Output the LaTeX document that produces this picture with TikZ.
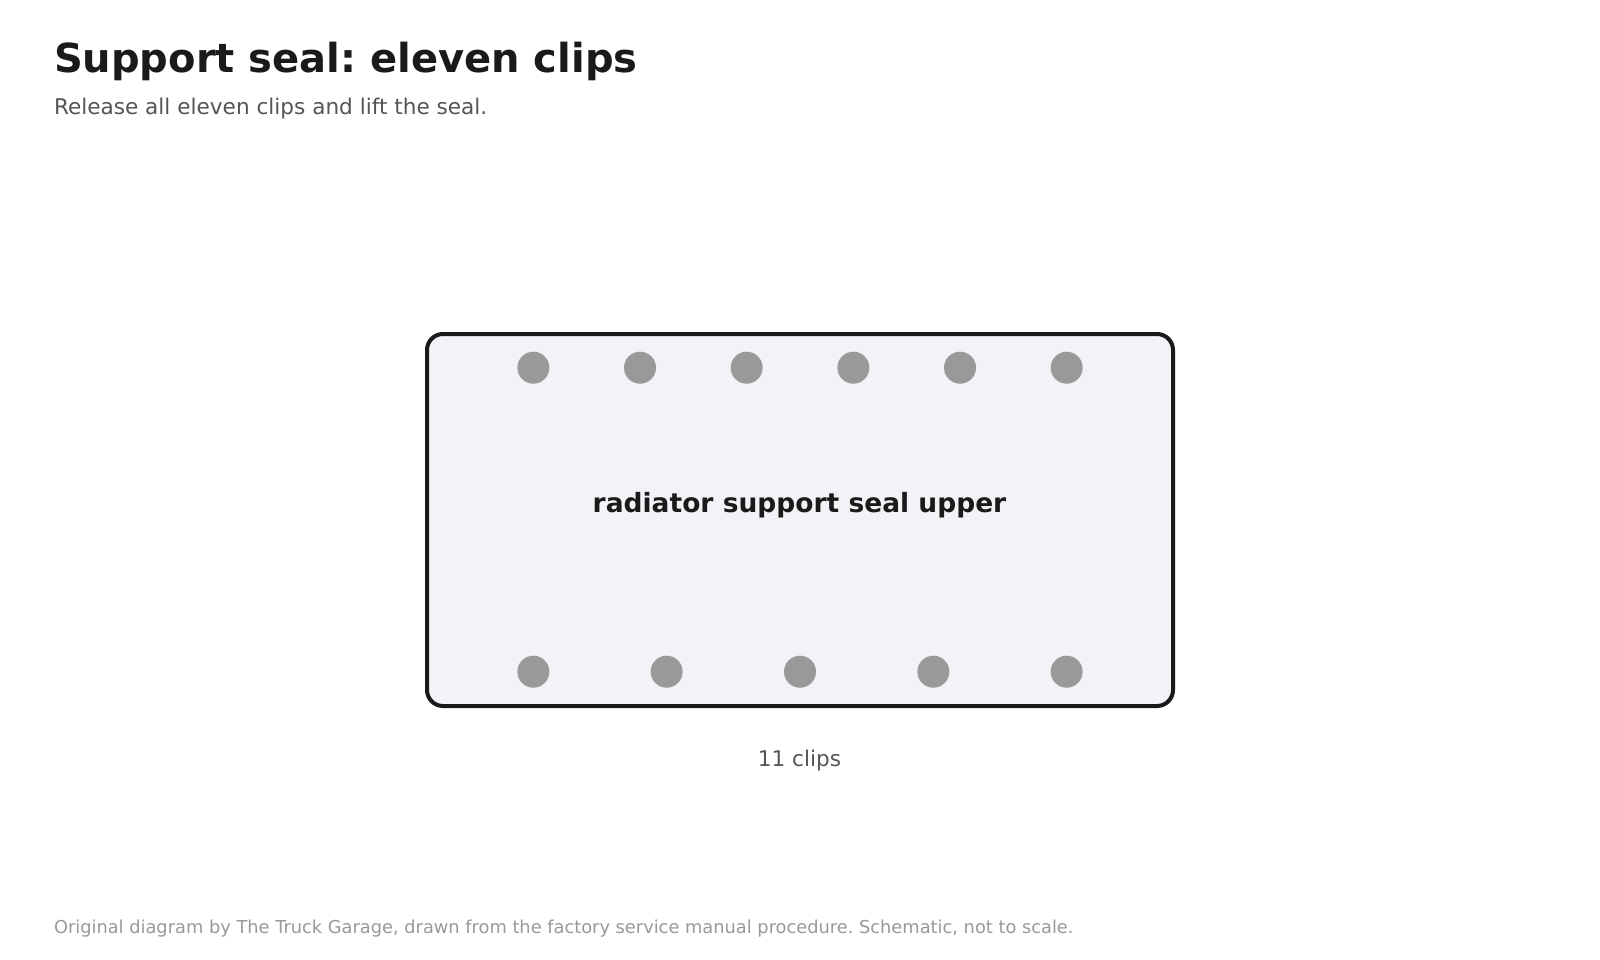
\documentclass[tikz,border=0pt]{standalone}
\usepackage{fontspec}
\setmainfont{DejaVu Sans}
\frenchspacing
\definecolor{ink}{HTML}{1A1A1A}
\definecolor{subgrey}{HTML}{555555}
\definecolor{footgrey}{HTML}{999999}
\definecolor{sealfill}{HTML}{F2F3F7}
\definecolor{clipgrey}{HTML}{999999}
\tikzset{
  clip dot/.style={circle, fill=clipgrey, inner sep=0pt, minimum size=32pt},
  sealbox/.style={draw=ink, line width=4pt, fill=sealfill, rounded corners=16pt},
  txt/.style={inner sep=0pt, outer sep=0pt},
}
\begin{document}
\begin{tikzpicture}[x=1pt, y=-1pt]
\useasboundingbox (0,0) rectangle (1600,960);
\fill[white] (0,0) rectangle (1600,960);
\node[txt, anchor=base west, text=ink, font=\fontsize{40}{48}\selectfont\bfseries] (title) at (54,72.5) {Support seal: eleven clips};
\node[txt, anchor=base west, text=subgrey, font=\fontsize{21.6}{26}\selectfont] (subtitle) at (54,114.5) {Release all eleven clips and lift the seal.};
\draw[sealbox] (427,334) rectangle (1173,706);
\node[txt, anchor=base, text=ink, font=\fontsize{26.5}{31}\selectfont\bfseries] (label) at (799.5,512) {radiator support seal upper};
\foreach \i in {0,...,5} {
  \node[clip dot] (t\i) at ({533.33+\i*106.67},367.7) {};
}
\foreach \i in {0,...,4} {
  \node[clip dot] (b\i) at ({533.33+\i*133.33},671.7) {};
}
\node[txt, anchor=base, text=subgrey, font=\fontsize{21.6}{26}\selectfont] (count) at (799.5,766.5) {11 clips};
\node[txt, anchor=base west, text=footgrey, font=\fontsize{17.8}{21}\selectfont] (footer) at (54,933.5) {Original diagram by The Truck Garage, drawn from the factory service manual procedure. Schematic, not to scale.};
\end{tikzpicture}
\end{document}
